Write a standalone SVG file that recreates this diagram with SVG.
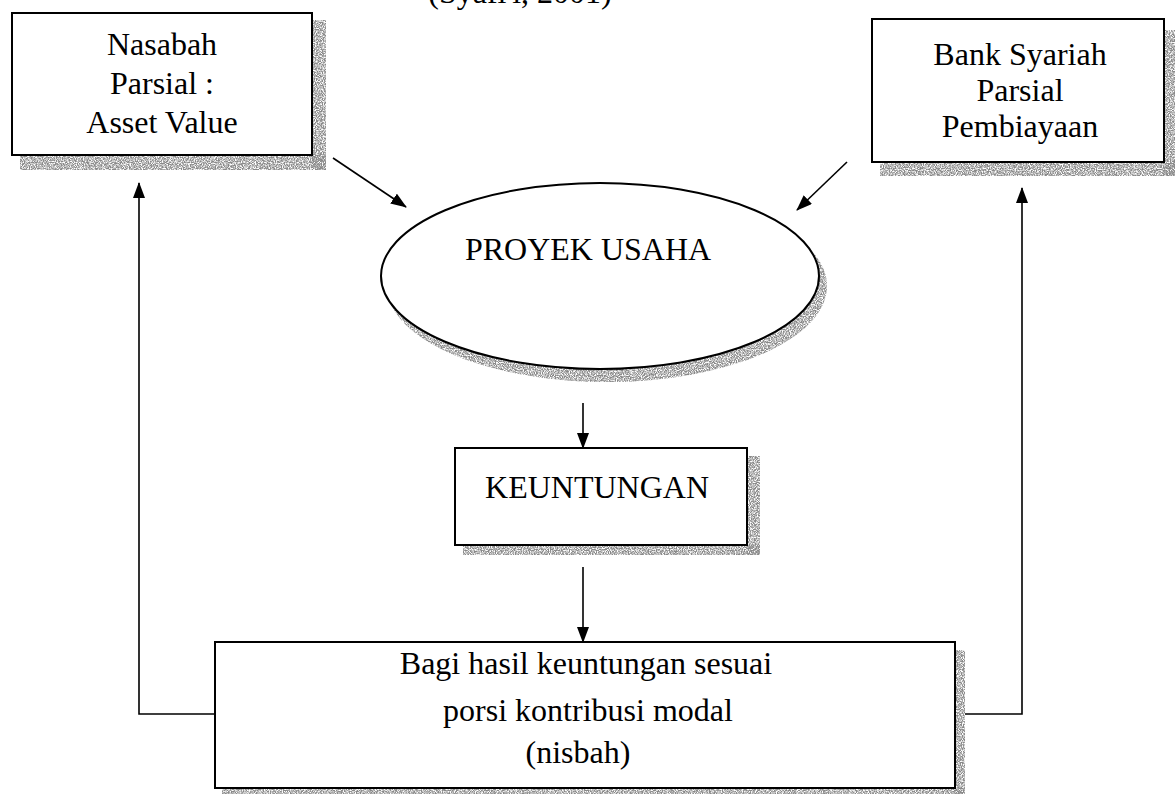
<svg xmlns="http://www.w3.org/2000/svg" width="1175" height="794" viewBox="0 0 1175 794">
  <defs>
    <filter id="speck" x="0" y="0" width="1" height="1">
      <feTurbulence type="fractalNoise" baseFrequency="0.85" numOctaves="2" seed="3" result="n"/>
      <feColorMatrix in="n" type="matrix" values="0 0 0 0 0.25  0 0 0 0 0.25  0 0 0 0 0.25  0 0 0 -3 2.1" result="dots"/>
      <feComposite in="dots" in2="SourceGraphic" operator="in"/>
    </filter>
    <marker id="arrow" viewBox="0 0 16 12" refX="15" refY="6" markerWidth="16" markerHeight="12" markerUnits="userSpaceOnUse" orient="auto">
      <path d="M0,0 L16,6 L0,12 Z" fill="#000"/>
    </marker>
  </defs>
  <style>
    .box { fill: #fff; stroke: #000; stroke-width: 2; }
    .shadow { fill: #000; filter: url(#speck); }
    .label { font-family: "Liberation Serif", "Times New Roman", serif; font-size: 32px; fill: #000; text-anchor: middle; }
    .conn { fill: none; stroke: #000; stroke-width: 1.6; }
  </style>
  <rect width="1175" height="794" fill="#fff"/>

  <text class="label" x="520" y="3" font-size="25">(Syafi'i, 2001)</text>

  <g id="nasabah">
    <rect class="shadow" x="312" y="20" width="14" height="150"/>
    <rect class="shadow" x="20" y="155" width="306" height="15"/>
    <rect class="box" x="12" y="13" width="300" height="142"/>
    <text class="label" x="162" y="55">Nasabah</text>
    <text class="label" x="162" y="94">Parsial :</text>
    <text class="label" x="162" y="133">Asset Value</text>
  </g>

  <g id="bank">
    <rect class="shadow" x="1164" y="30" width="11" height="145"/>
    <rect class="shadow" x="880" y="162" width="295" height="14"/>
    <rect class="box" x="872" y="19" width="292" height="143"/>
    <text class="label" x="1020" y="65" font-size="31">Bank Syariah</text>
    <text class="label" x="1020" y="101" font-size="31">Parsial</text>
    <text class="label" x="1020" y="137" font-size="31">Pembiayaan</text>
  </g>

  <g id="proyek">
    <ellipse class="shadow" cx="607" cy="286" rx="220" ry="96"/>
    <ellipse class="box" cx="600" cy="276" rx="219" ry="93"/>
    <text class="label" x="588" y="260">PROYEK USAHA</text>
  </g>

  <g id="keuntungan">
    <rect class="shadow" x="747" y="456" width="13" height="99"/>
    <rect class="shadow" x="463" y="545" width="297" height="10"/>
    <rect class="box" x="455" y="448" width="292" height="97"/>
    <text class="label" x="597" y="498">KEUNTUNGAN</text>
  </g>

  <g id="bagi-hasil">
    <rect class="shadow" x="955" y="650" width="10" height="144"/>
    <rect class="shadow" x="222" y="788" width="743" height="6"/>
    <rect class="box" x="215" y="642" width="740" height="146"/>
    <text class="label" x="586" y="674">Bagi hasil keuntungan sesuai</text>
    <text class="label" x="588" y="721">porsi kontribusi modal</text>
    <text class="label" x="578" y="763">(nisbah)</text>
  </g>

  <g id="connectors">
    <line class="conn" x1="333" y1="158" x2="406" y2="207" marker-end="url(#arrow)"/>
    <line class="conn" x1="847" y1="162" x2="797" y2="210" marker-end="url(#arrow)"/>
    <line class="conn" x1="583" y1="403" x2="583" y2="448" marker-end="url(#arrow)"/>
    <line class="conn" x1="583" y1="567" x2="583" y2="642" marker-end="url(#arrow)"/>
    <polyline class="conn" points="215,714 139,714 139,183" marker-end="url(#arrow)"/>
    <polyline class="conn" points="965,714 1022,714 1022,188" marker-end="url(#arrow)"/>
  </g>
</svg>
